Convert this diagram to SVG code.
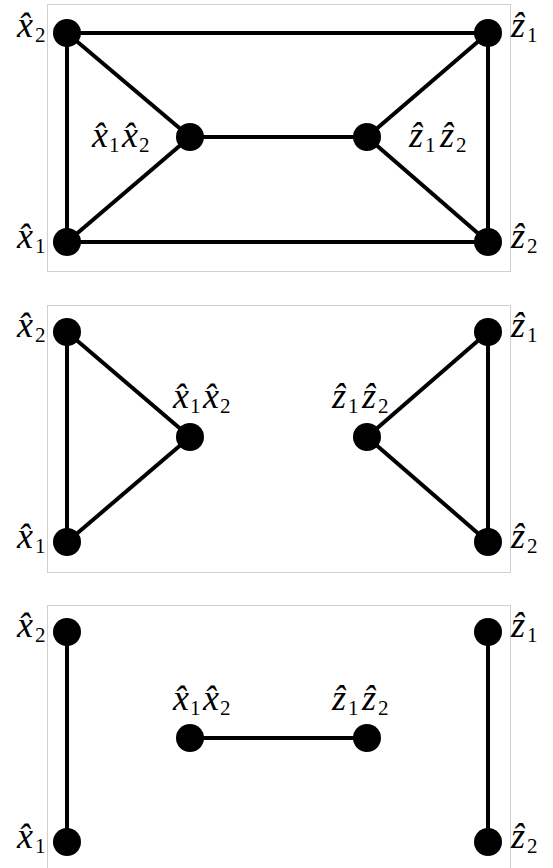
<svg xmlns="http://www.w3.org/2000/svg" width="553" height="868" viewBox="0 0 553 868">
<style>
.frame{fill:none;stroke:#d0d0d0;stroke-width:1}
.edge{stroke:#000;stroke-width:4;fill:none}
.node{fill:#000}
text{font-family:"Liberation Serif","Times New Roman",serif;font-style:italic;font-size:36px;fill:#000}
.sub{font-style:normal;font-size:21px}
</style>
<rect class="frame" x="47.5" y="4.5" width="463" height="267"/>
<rect class="frame" x="47.5" y="305.5" width="463" height="267"/>
<rect class="frame" x="47.5" y="605.5" width="463" height="267"/>
<g id="connectors">
<line class="edge" x1="67" y1="33" x2="488" y2="33"/>
<line class="edge" x1="67" y1="242" x2="488" y2="242"/>
<line class="edge" x1="67" y1="33" x2="67" y2="242"/>
<line class="edge" x1="488" y1="33" x2="488" y2="242"/>
<line class="edge" x1="67" y1="33" x2="190" y2="137"/>
<line class="edge" x1="67" y1="242" x2="190" y2="137"/>
<line class="edge" x1="190" y1="137" x2="367" y2="137"/>
<line class="edge" x1="367" y1="137" x2="488" y2="33"/>
<line class="edge" x1="367" y1="137" x2="488" y2="242"/>
<line class="edge" x1="67" y1="332" x2="67" y2="542"/>
<line class="edge" x1="67" y1="332" x2="190" y2="437"/>
<line class="edge" x1="67" y1="542" x2="190" y2="437"/>
<line class="edge" x1="488" y1="332" x2="488" y2="542"/>
<line class="edge" x1="367" y1="437" x2="488" y2="332"/>
<line class="edge" x1="367" y1="437" x2="488" y2="542"/>
<line class="edge" x1="67" y1="632" x2="67" y2="842"/>
<line class="edge" x1="190" y1="738" x2="367" y2="738"/>
<line class="edge" x1="488" y1="632" x2="488" y2="842"/>
</g>
<!-- panel 1 -->
<g id="p1-x2"><circle class="node" cx="67" cy="33" r="14"/><text><tspan x="17" y="37">x̂</tspan><tspan class="sub" x="35" y="42">2</tspan></text></g>
<g id="p1-z1"><circle class="node" cx="488" cy="33" r="14"/><text><tspan x="511" y="37">ẑ</tspan><tspan class="sub" x="527" y="42">1</tspan></text></g>
<g id="p1-x1"><circle class="node" cx="67" cy="242" r="14"/><text><tspan x="17" y="248">x̂</tspan><tspan class="sub" x="35" y="253">1</tspan></text></g>
<g id="p1-z2"><circle class="node" cx="488" cy="242" r="14"/><text><tspan x="511" y="248">ẑ</tspan><tspan class="sub" x="527" y="253">2</tspan></text></g>
<g id="p1-x1x2"><circle class="node" cx="190" cy="137" r="14"/><text><tspan x="92" y="147">x̂</tspan><tspan class="sub" x="109" y="152">1</tspan><tspan x="122" y="147">x̂</tspan><tspan class="sub" x="139" y="152">2</tspan></text></g>
<g id="p1-z1z2"><circle class="node" cx="367" cy="137" r="14"/><text><tspan x="409" y="147">ẑ</tspan><tspan class="sub" x="425" y="152">1</tspan><tspan x="440" y="147">ẑ</tspan><tspan class="sub" x="456" y="152">2</tspan></text></g>
<!-- panel 2 -->
<g id="p2-x2"><circle class="node" cx="67" cy="332" r="14"/><text><tspan x="17" y="337">x̂</tspan><tspan class="sub" x="35" y="342">2</tspan></text></g>
<g id="p2-z1"><circle class="node" cx="488" cy="332" r="14"/><text><tspan x="511" y="337">ẑ</tspan><tspan class="sub" x="527" y="342">1</tspan></text></g>
<g id="p2-x1"><circle class="node" cx="67" cy="542" r="14"/><text><tspan x="17" y="548">x̂</tspan><tspan class="sub" x="35" y="553">1</tspan></text></g>
<g id="p2-z2"><circle class="node" cx="488" cy="542" r="14"/><text><tspan x="511" y="548">ẑ</tspan><tspan class="sub" x="527" y="553">2</tspan></text></g>
<g id="p2-x1x2"><circle class="node" cx="190" cy="437" r="14"/><text><tspan x="173" y="408">x̂</tspan><tspan class="sub" x="190" y="413">1</tspan><tspan x="203" y="408">x̂</tspan><tspan class="sub" x="220" y="413">2</tspan></text></g>
<g id="p2-z1z2"><circle class="node" cx="367" cy="437" r="14"/><text><tspan x="332" y="408">ẑ</tspan><tspan class="sub" x="348" y="413">1</tspan><tspan x="362" y="408">ẑ</tspan><tspan class="sub" x="378" y="413">2</tspan></text></g>
<!-- panel 3 -->
<g id="p3-x2"><circle class="node" cx="67" cy="632" r="14"/><text><tspan x="17" y="637">x̂</tspan><tspan class="sub" x="35" y="642">2</tspan></text></g>
<g id="p3-z1"><circle class="node" cx="488" cy="632" r="14"/><text><tspan x="511" y="637">ẑ</tspan><tspan class="sub" x="527" y="642">1</tspan></text></g>
<g id="p3-x1"><circle class="node" cx="67" cy="842" r="14"/><text><tspan x="17" y="848">x̂</tspan><tspan class="sub" x="35" y="853">1</tspan></text></g>
<g id="p3-z2"><circle class="node" cx="488" cy="842" r="14"/><text><tspan x="511" y="848">ẑ</tspan><tspan class="sub" x="527" y="853">2</tspan></text></g>
<g id="p3-x1x2"><circle class="node" cx="190" cy="738" r="14"/><text><tspan x="173" y="710">x̂</tspan><tspan class="sub" x="190" y="715">1</tspan><tspan x="203" y="710">x̂</tspan><tspan class="sub" x="220" y="715">2</tspan></text></g>
<g id="p3-z1z2"><circle class="node" cx="367" cy="738" r="14"/><text><tspan x="332" y="710">ẑ</tspan><tspan class="sub" x="348" y="715">1</tspan><tspan x="362" y="710">ẑ</tspan><tspan class="sub" x="378" y="715">2</tspan></text></g>
</svg>
